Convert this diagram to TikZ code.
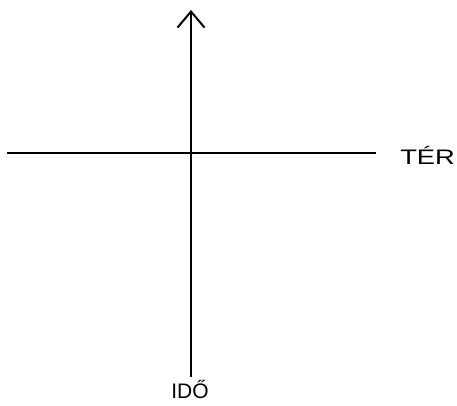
\documentclass[tikz,border=0pt]{standalone}
\usepackage{fontspec}
\setmainfont{Liberation Sans}
\usetikzlibrary{arrows.meta}
\begin{document}
\begin{tikzpicture}[x=1pt,y=-1pt,
  axis/.style={line width=2.2pt, black},
  lbl/.style={font=\fontsize{21}{24}\selectfont, inner sep=0pt}]
\useasboundingbox[fill=white] (0,0) rectangle (457,405);
\coordinate (left) at (7,153);
\coordinate (right) at (376,153);
\coordinate (bottom) at (191,377);
\coordinate (top) at (191,10);
\draw[axis] (left) -- (right);
\draw[axis, -{Straight Barb[length=16pt,width=27pt,line width=2pt]}] (bottom) -- (top);
\node[lbl, xscale=1.3, anchor=west] (ter) at (400,155) {TÉR};
\node[lbl] (ido) at (190,389) {IDŐ};
\end{tikzpicture}
\end{document}
